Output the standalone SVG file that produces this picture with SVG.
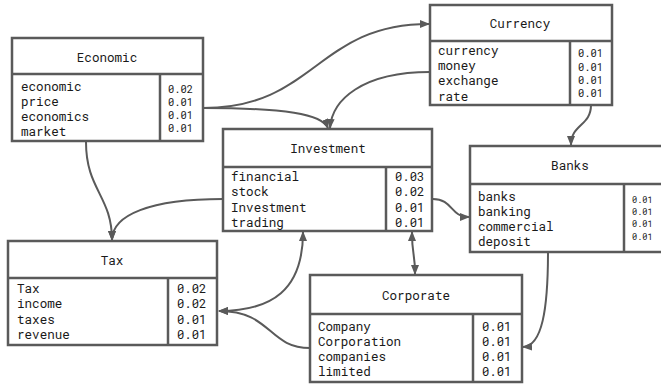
<svg xmlns="http://www.w3.org/2000/svg" width="661" height="385" viewBox="0 0 661 385">
  <style>
    .box { fill: #ffffff; stroke: #5a5a5a; stroke-width: 2.5; }
    .sep { stroke: #5a5a5a; stroke-width: 2.5; fill: none; }
    text { font-family: "Roboto Mono", "DejaVu Sans Mono", "Liberation Mono", monospace; fill: #1a1a1a; }
    .title { font-size: 12.6px; text-anchor: middle; }
    .term { font-size: 12.6px; }
    .val { font-size: 12.2px; }
    .val-s { font-size: 10.4px; }
    .val-xs { font-size: 8.6px; }
    .edge { fill: none; stroke: #5a5a5a; stroke-width: 2; }
  </style>
  <defs>
    <marker id="arrow" viewBox="0 0 10 8" refX="9" refY="4" markerWidth="10" markerHeight="8" markerUnits="userSpaceOnUse" orient="auto-start-reverse">
      <path d="M0,0 L10,4 L0,8 z" fill="#5a5a5a"/>
    </marker>
  </defs>

  <!-- connectors -->
  <g id="edges">
    <path class="edge" d="M203,108 C316,108 316,24 429,24" marker-end="url(#arrow)"/>
    <path class="edge" d="M203,108 C285,108 322,114 328,128" marker-end="url(#arrow)"/>
    <path class="edge" d="M430,72 C362,72 332,100 330,128" marker-end="url(#arrow)"/>
    <path class="edge" d="M591,105 C591,126 571,124 571,145" marker-end="url(#arrow)"/>
    <path class="edge" d="M86,142 C86,190 112,196 112,240" marker-end="url(#arrow)"/>
    <path class="edge" d="M223,199 C150,199 112,215 112,240" marker-end="url(#arrow)"/>
    <path class="edge" d="M219,311 C272,311 303,290 303,232" marker-start="url(#arrow)" marker-end="url(#arrow)"/>
    <path class="edge" d="M310,348 C268,348 272,311 219,311" marker-end="url(#arrow)"/>
    <path class="edge" d="M412,232 C412,256 415,252 415,274" marker-start="url(#arrow)" marker-end="url(#arrow)"/>
    <path class="edge" d="M433,199 C453,199 450,217 469,217" marker-end="url(#arrow)"/>
    <path class="edge" d="M548,252 C548,310 542,346 523,347" marker-end="url(#arrow)"/>
  </g>

  <!-- Economic -->
  <g id="economic">
    <rect class="box" x="12" y="38" width="191" height="103"/>
    <line class="sep" x1="12" y1="74" x2="203" y2="74"/>
    <line class="sep" x1="160" y1="74" x2="160" y2="141"/>
    <text class="title" x="107" y="61.5">Economic</text>
    <text class="term" x="21" y="91">economic</text>
    <text class="term" x="21" y="106">price</text>
    <text class="term" x="21" y="121">economics</text>
    <text class="term" x="21" y="136">market</text>
    <text class="val-s" x="168" y="93">0.02</text>
    <text class="val-s" x="168" y="106">0.01</text>
    <text class="val-s" x="168" y="119">0.01</text>
    <text class="val-s" x="168" y="132">0.01</text>
  </g>

  <!-- Currency -->
  <g id="currency">
    <rect class="box" x="430" y="5" width="182" height="100"/>
    <line class="sep" x1="430" y1="41" x2="612" y2="41"/>
    <line class="sep" x1="570" y1="41" x2="570" y2="105"/>
    <text class="title" x="520" y="28">Currency</text>
    <text class="term" x="438" y="55">currency</text>
    <text class="term" x="438" y="70">money</text>
    <text class="term" x="438" y="85">exchange</text>
    <text class="term" x="438" y="101">rate</text>
    <text class="val-s" x="578" y="57">0.01</text>
    <text class="val-s" x="578" y="70.5">0.01</text>
    <text class="val-s" x="578" y="84">0.01</text>
    <text class="val-s" x="578" y="97">0.01</text>
  </g>

  <!-- Investment -->
  <g id="investment">
    <rect class="box" x="223" y="129" width="209" height="102"/>
    <line class="sep" x1="223" y1="167" x2="432" y2="167"/>
    <line class="sep" x1="386" y1="167" x2="386" y2="231"/>
    <text class="title" x="328" y="152.5">Investment</text>
    <text class="term" x="231" y="181">financial</text>
    <text class="term" x="231" y="196">stock</text>
    <text class="term" x="231" y="211.5">Investment</text>
    <text class="term" x="231" y="226.5">trading</text>
    <text class="val" x="395" y="181">0.03</text>
    <text class="val" x="395" y="196">0.02</text>
    <text class="val" x="395" y="211.5">0.01</text>
    <text class="val" x="395" y="226.5">0.01</text>
  </g>

  <!-- Banks -->
  <g id="banks">
    <rect class="box" x="470" y="146" width="210" height="106"/>
    <line class="sep" x1="470" y1="184" x2="680" y2="184"/>
    <line class="sep" x1="624" y1="184" x2="624" y2="252"/>
    <text class="title" x="570" y="170">Banks</text>
    <text class="term" x="478" y="201">banks</text>
    <text class="term" x="478" y="216">banking</text>
    <text class="term" x="478" y="231">commercial</text>
    <text class="term" x="478" y="246">deposit</text>
    <text class="val-xs" x="632" y="203">0.01</text>
    <text class="val-xs" x="632" y="215">0.01</text>
    <text class="val-xs" x="632" y="227">0.01</text>
    <text class="val-xs" x="632" y="239.5">0.01</text>
  </g>

  <!-- Tax -->
  <g id="tax">
    <rect class="box" x="8" y="241" width="209" height="104"/>
    <line class="sep" x1="8" y1="278" x2="217" y2="278"/>
    <line class="sep" x1="168" y1="278" x2="168" y2="345"/>
    <text class="title" x="112" y="265">Tax</text>
    <text class="term" x="17" y="293">Tax</text>
    <text class="term" x="17" y="308">income</text>
    <text class="term" x="17" y="324">taxes</text>
    <text class="term" x="17" y="339">revenue</text>
    <text class="val" x="177" y="293">0.02</text>
    <text class="val" x="177" y="308">0.02</text>
    <text class="val" x="177" y="324">0.01</text>
    <text class="val" x="177" y="339">0.01</text>
  </g>

  <!-- Corporate -->
  <g id="corporate">
    <rect class="box" x="310" y="275" width="212" height="107"/>
    <line class="sep" x1="310" y1="314" x2="522" y2="314"/>
    <line class="sep" x1="473" y1="314" x2="473" y2="382"/>
    <text class="title" x="416" y="299.5">Corporate</text>
    <text class="term" x="318" y="331">Company</text>
    <text class="term" x="318" y="346">Corporation</text>
    <text class="term" x="318" y="361">companies</text>
    <text class="term" x="318" y="376">limited</text>
    <text class="val" x="482" y="331">0.01</text>
    <text class="val" x="482" y="346">0.01</text>
    <text class="val" x="482" y="361">0.01</text>
    <text class="val" x="482" y="376">0.01</text>
  </g>
</svg>
